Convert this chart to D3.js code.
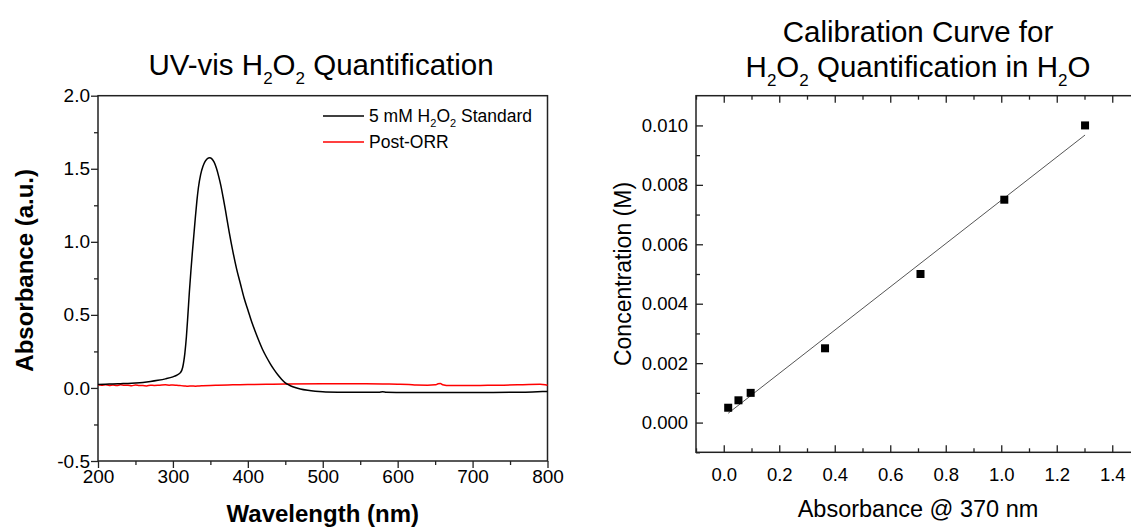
<!DOCTYPE html>
<html>
<head>
<meta charset="utf-8">
<script src="https://cdn.jsdelivr.net/npm/d3@7"></script>
<style>
  body { margin: 0; background: #fff; }
  svg { display: block; }
  text { font-family: "Liberation Sans", Arial, sans-serif; fill: #000; }
</style>
</head>
<body>
<svg id="chart" width="1131" height="529"></svg>
<script>
// ---- UV-vis spectrum: 5 mM H2O2 standard ----
const stdWavelength = [200,210,220,230,240,250,260,270,280,290,300,
  306,310,313,316,318,320,322,324,326,328,330,332,334,337,340,343,346,349,352,355,358,361,364,367,370,
  375,380,385,390,395,400,405,410,415,420,425,430,435,440,445,450,455,460,
  470,480,490,500,520,550,575,580,585,600,650,700,750,780,800];
const stdAbsorbance = [0.024,0.026,0.027,0.029,0.031,0.034,0.038,0.044,0.052,0.062,0.076,
  0.09,0.105,0.14,0.24,0.35,0.5,0.66,0.8,0.93,1.05,1.17,1.28,1.37,1.46,1.515,1.55,1.57,1.575,1.568,1.545,1.505,1.45,1.385,1.305,1.22,
  1.07,0.935,0.815,0.715,0.615,0.535,0.455,0.385,0.32,0.26,0.21,0.165,0.125,0.09,0.06,0.035,0.02,0.008,
  -0.007,-0.016,-0.022,-0.026,-0.029,-0.030,-0.030,-0.026,-0.030,-0.031,-0.032,-0.031,-0.030,-0.027,-0.024];

// ---- UV-vis spectrum: post-ORR electrolyte ----
const postWavelength = [200,205,210,215,220,225,230,235,240,245,250,255,260,265,270,275,280,285,290,295,
  300,305,310,315,320,325,330,335,340,350,360,380,400,425,450,500,550,580,600,615,625,640,650,654,657,660,
  670,685,700,720,740,760,775,790,797,800];
const postAbsorbance = [0.021,0.018,0.022,0.017,0.02,0.016,0.021,0.018,0.019,0.015,0.02,0.017,0.016,0.014,0.019,0.017,0.018,0.02,0.021,0.019,
  0.02,0.018,0.016,0.014,0.012,0.013,0.012,0.014,0.015,0.017,0.019,0.021,0.023,0.025,0.027,0.028,0.028,0.027,0.026,0.024,0.02,0.019,0.021,0.028,0.03,0.022,
  0.016,0.016,0.017,0.018,0.019,0.021,0.024,0.025,0.022,0.018];

// ---- Calibration standards ----
const calAbsorbance = [0.016, 0.053, 0.097, 0.365, 0.709, 1.011, 1.302];
const calConcentration = [0.0005, 0.00075, 0.001, 0.0025, 0.005, 0.0075, 0.01];

// Linear fit of the calibration standards
const fitSlope = 0.00728;
const fitIntercept = 0.000198;
const fitRange = [0.016, 1.302];

// Tick values
const specXTicks = [200, 300, 400, 500, 600, 700, 800];
const specYTicks = [-0.5, 0.0, 0.5, 1.0, 1.5, 2.0];
const calXTicks = [0.0, 0.2, 0.4, 0.6, 0.8, 1.0, 1.2, 1.4];
const calYTicks = [0.000, 0.002, 0.004, 0.006, 0.008, 0.010];

const svg = d3.select("#chart");
const FONT = "'Liberation Sans', Arial, sans-serif";

// text with subscript runs: parts = [[string, isSub], ...]
function richText(sel, parts, subSize, subShift) {
  let inSub = false;
  parts.forEach(([str, sub]) => {
    const t = sel.append("tspan").text(str);
    if (sub && !inSub) { t.attr("dy", subShift); }
    if (!sub && inSub) { t.attr("dy", -subShift); }
    if (sub) t.attr("font-size", subSize);
    inSub = sub;
  });
  return sel;
}

function styleAxis(g, size) {
  g.attr("font-family", FONT).attr("font-size", size);
  g.select(".domain").remove();
  g.selectAll("line").attr("stroke", "#222").attr("stroke-width", 1.3);
  g.selectAll("text").attr("fill", "#000");
}

// ================= Left: UV-vis spectra =================
const L = { left: 98, right: 547.5, top: 95.7, bottom: 461 };
const xs = d3.scaleLinear().domain([200, 800]).range([L.left, L.right]);
const ys = d3.scaleLinear().domain([-0.5, 2.0]).range([L.bottom, L.top]);

const gL = svg.append("g");

// minor ticks
gL.append("g").attr("transform", `translate(${L.left},0)`)
  .call(d3.axisLeft(ys).tickValues(d3.range(-0.25, 2.0, 0.5)).tickSize(4).tickFormat(""))
  .call(g => styleAxis(g, 19));
gL.append("g").attr("transform", `translate(0,${L.bottom})`)
  .call(d3.axisBottom(xs).tickValues(d3.range(250, 800, 100)).tickSize(4).tickFormat(""))
  .call(g => styleAxis(g, 19));
// major ticks
gL.append("g").attr("transform", `translate(${L.left},0)`)
  .call(d3.axisLeft(ys).tickValues(specYTicks).tickSize(7).tickPadding(1).tickFormat(d => d.toFixed(1)))
  .call(g => styleAxis(g, 19));
gL.append("g").attr("transform", `translate(0,${L.bottom})`)
  .call(d3.axisBottom(xs).tickValues(specXTicks).tickSize(7).tickPadding(2).tickFormat(d => d))
  .call(g => styleAxis(g, 19));

gL.append("rect")
  .attr("x", L.left).attr("y", L.top)
  .attr("width", L.right - L.left).attr("height", L.bottom - L.top)
  .attr("fill", "none").attr("stroke", "#222").attr("stroke-width", 1.5);

const specLine = d3.line().curve(d3.curveMonotoneX);
gL.append("path")
  .attr("d", specLine(postWavelength.map((w, i) => [xs(w), ys(postAbsorbance[i])])))
  .attr("fill", "none").attr("stroke", "#ff0000").attr("stroke-width", 1.5);
gL.append("path")
  .attr("d", specLine(stdWavelength.map((w, i) => [xs(w), ys(stdAbsorbance[i])])))
  .attr("fill", "none").attr("stroke", "#000").attr("stroke-width", 1.5);

// legend
const legend = gL.append("g");
const legendItems = [
  { color: "#000", parts: [["5 mM H", false], ["2", true], ["O", false], ["2", true], [" Standard", false]], y: 116 },
  { color: "#ff0000", parts: [["Post-ORR", false]], y: 142 }
];
legendItems.forEach(it => {
  legend.append("line").attr("x1", 323).attr("x2", 364).attr("y1", it.y).attr("y2", it.y)
    .attr("stroke", it.color).attr("stroke-width", 1.5);
  richText(legend.append("text").attr("x", 369).attr("y", it.y + 6).attr("font-size", 17.5), it.parts, 11, 4.5);
});

// titles
richText(svg.append("text").attr("x", 321).attr("y", 75).attr("text-anchor", "middle").attr("font-size", 29.5),
  [["UV-vis H", false], ["2", true], ["O", false], ["2", true], [" Quantification", false]], 17, 9);

svg.append("text")
  .attr("transform", `translate(33,${(L.top + L.bottom) / 2 - 8}) rotate(-90)`)
  .attr("text-anchor", "middle").attr("font-size", 24).attr("font-weight", "bold")
  .text("Absorbance (a.u.)");
svg.append("text")
  .attr("x", (L.left + L.right) / 2).attr("y", 522)
  .attr("text-anchor", "middle").attr("font-size", 24).attr("font-weight", "bold")
  .text("Wavelength (nm)");

// ================= Right: calibration curve =================
const R = { left: 696, right: 1140, top: 95.7, bottom: 452.3 };
const xc = d3.scaleLinear().domain([-0.1, 1.5]).range([R.left, R.right]);
const yc = d3.scaleLinear().domain([-0.001, 0.011]).range([R.bottom, R.top]);

const gR = svg.append("g");
const minorX = d3.range(-0.1, 1.5, 0.2).map(v => +v.toFixed(2));
const minorY = d3.range(-0.001, 0.011, 0.002).map(v => +v.toFixed(4));

// inward ticks on left, bottom and top edges
const calAxes = [
  { make: () => d3.axisLeft(yc), tr: `translate(${R.left},0)`, minors: minorY, majors: calYTicks, fmt: d => d.toFixed(3), pad: 8 },
  { make: () => d3.axisBottom(xc), tr: `translate(0,${R.bottom})`, minors: minorX, majors: calXTicks, fmt: d => d.toFixed(1), pad: 16 },
  { make: () => d3.axisTop(xc), tr: `translate(0,${R.top})`, minors: minorX, majors: calXTicks, fmt: () => "", pad: 8 }
];
calAxes.forEach(a => {
  gR.append("g").attr("transform", a.tr)
    .call(a.make().tickValues(a.minors).tickSizeInner(-4).tickSizeOuter(0).tickFormat(""))
    .call(g => styleAxis(g, 18.5));
  gR.append("g").attr("transform", a.tr)
    .call(a.make().tickValues(a.majors).tickSizeInner(-7).tickSizeOuter(0).tickPadding(a.pad).tickFormat(a.fmt))
    .call(g => styleAxis(g, 18.5));
});

gR.append("rect")
  .attr("x", R.left).attr("y", R.top)
  .attr("width", R.right - R.left).attr("height", R.bottom - R.top)
  .attr("fill", "none").attr("stroke", "#222").attr("stroke-width", 1.5);

gR.append("line")
  .attr("x1", xc(fitRange[0])).attr("y1", yc(fitIntercept + fitSlope * fitRange[0]))
  .attr("x2", xc(fitRange[1])).attr("y2", yc(fitIntercept + fitSlope * fitRange[1]))
  .attr("stroke", "#555").attr("stroke-width", 1);

const m = 8;
gR.selectAll("rect.pt").data(calAbsorbance).join("rect")
  .attr("class", "pt")
  .attr("x", (d) => xc(d) - m / 2)
  .attr("y", (d, i) => yc(calConcentration[i]) - m / 2)
  .attr("width", m).attr("height", m).attr("fill", "#000");

svg.append("text").attr("x", 918).attr("y", 41.5).attr("text-anchor", "middle")
  .attr("font-size", 29.5).text("Calibration Curve for");
richText(svg.append("text").attr("x", 918).attr("y", 76.5).attr("text-anchor", "middle").attr("font-size", 29.5),
  [["H", false], ["2", true], ["O", false], ["2", true], [" Quantification in H", false], ["2", true], ["O", false]], 17, 9);

svg.append("text")
  .attr("transform", `translate(631,${(R.top + R.bottom) / 2}) rotate(-90)`)
  .attr("text-anchor", "middle").attr("font-size", 23)
  .text("Concentration (M)");
svg.append("text")
  .attr("x", 918).attr("y", 517)
  .attr("text-anchor", "middle").attr("font-size", 23.5)
  .text("Absorbance @ 370 nm");
</script>
</body>
</html>
